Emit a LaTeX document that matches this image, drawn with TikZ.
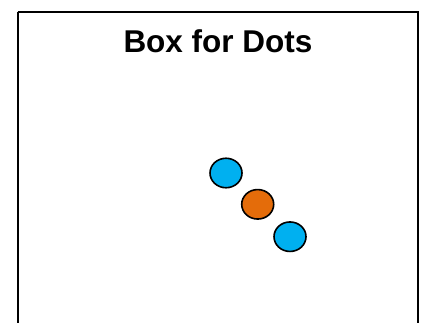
\documentclass[tikz,border=0pt]{standalone}
\usetikzlibrary{shapes.geometric}
\usepackage{fontspec}
\setmainfont{Liberation Sans}
\definecolor{dotblue}{HTML}{00B0F0}
\definecolor{dotorange}{HTML}{E46C0A}
\begin{document}
\begin{tikzpicture}[x=1pt,y=-1pt,
  dot/.style={draw=black,line width=1.6pt,ellipse,minimum width=32pt,minimum height=29.5pt,inner sep=0pt},
  frame/.style={draw=black,line width=2pt}]
\useasboundingbox (0,0) rectangle (422,322);
\draw[frame] (17.5,12) -- (418,12) -- (418,330) (17.5,330) -- (17.5,12);
\node[font=\bfseries\fontsize{31.5}{36}\selectfont,anchor=base] (title) at (218,52.3) {Box for Dots};
\node[dot,fill=dotblue] (d1) at (226,173) {};
\node[dot,fill=dotorange] (d2) at (257.7,204.3) {};
\node[dot,fill=dotblue] (d3) at (290,236.7) {};
\end{tikzpicture}
\end{document}
